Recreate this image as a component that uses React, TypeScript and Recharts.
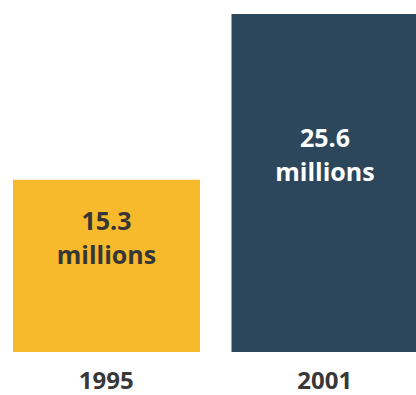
import React from 'react';
import { BarChart, Bar, XAxis, YAxis, Cell, LabelList } from 'recharts';

const years = ['1995', '2001'];
const populations = [15.3, 25.6];
const barColors = ['#F7BA2C', '#2C475C'];
const labelColors = ['#363636', '#FFFFFF'];

const chartData = years.map((year, i) => ({ year, value: populations[i] }));

const FONT = '"Open Sans", "DejaVu Sans", sans-serif';

// two-line label sitting a bit above the middle of each bar
const ValueLabel = (props: any) => {
  const { x, y, width, height, value, index } = props;
  const cx = x + width / 2;
  const first = y + height / 2 - 36;
  return (
    <g>
      <text x={cx} y={first} textAnchor="middle" fill={labelColors[index]} fontFamily={FONT} fontWeight={700} fontSize={25}>
        {value}
      </text>
      <text x={cx} y={first + 34} textAnchor="middle" fill={labelColors[index]} fontFamily={FONT} fontWeight={700} fontSize={25}>
        millions
      </text>
    </g>
  );
};

const YearTick = (props: any) => {
  const { x, y, payload } = props;
  return (
    <text x={x} y={y + 29} textAnchor="middle" fill="#383838" fontFamily={FONT} fontWeight={700} fontSize={24}>
      {payload.value}
    </text>
  );
};

const App: React.FC = () => (
  <div style={{ position: 'absolute', left: 0, top: 0, width: 416, height: 395, overflow: 'hidden', background: '#fff' }}>
    <div style={{ marginLeft: -3 }}>
      <BarChart width={437} height={395} data={chartData} margin={{ top: 14, right: 0, bottom: 0, left: 0 }} barSize={187}>
        <XAxis dataKey="year" axisLine={false} tickLine={false} height={43} tick={<YearTick />} interval={0} />
        <YAxis hide domain={[4.6, 25.6]} />
        <Bar dataKey="value" isAnimationActive={false}>
          {chartData.map((d, i) => (
            <Cell key={d.year} fill={barColors[i]} />
          ))}
          <LabelList dataKey="value" content={<ValueLabel />} />
        </Bar>
      </BarChart>
    </div>
  </div>
);

export default App;
